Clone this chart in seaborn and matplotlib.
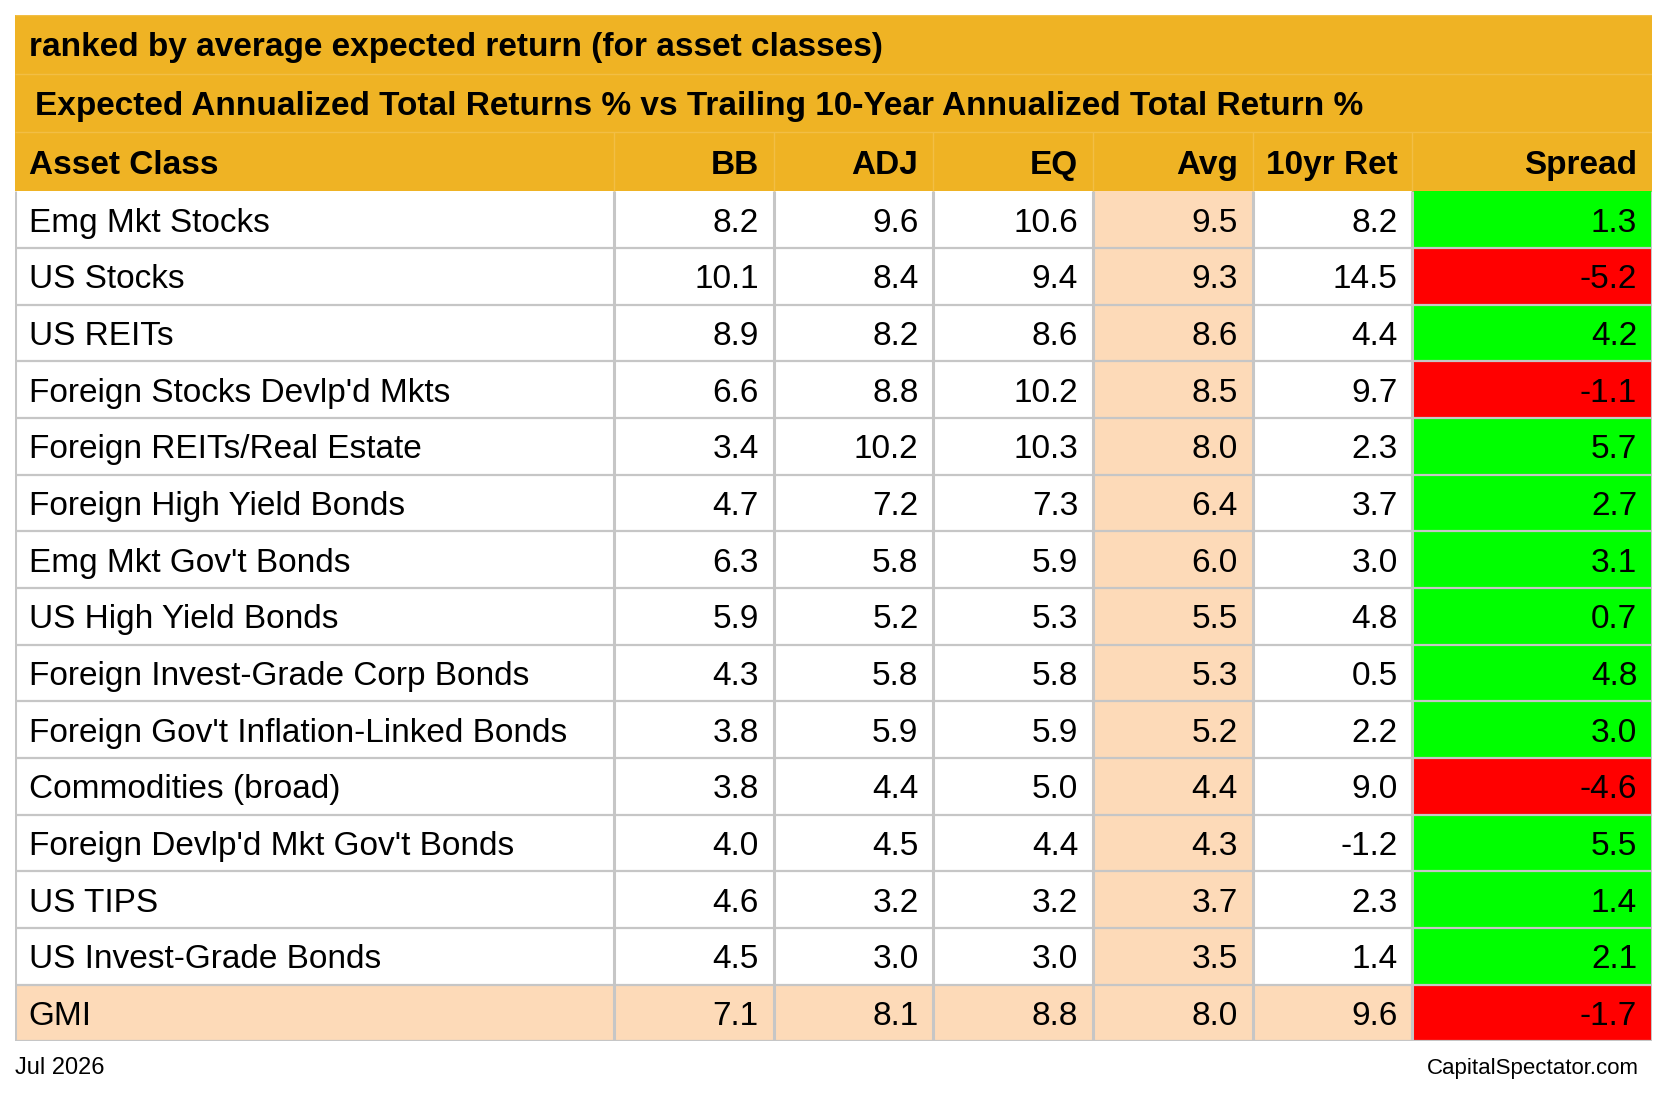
import numpy as np
import matplotlib
matplotlib.use("Agg")
from matplotlib import pyplot as plt
from matplotlib.colors import ListedColormap
import seaborn as sns

assets = ["Emg Mkt Stocks", "US Stocks", "US REITs", "Foreign Stocks Devlp'd Mkts",
          "Foreign REITs/Real Estate", "Foreign High Yield Bonds", "Emg Mkt Gov't Bonds",
          "US High Yield Bonds", "Foreign Invest-Grade Corp Bonds",
          "Foreign Gov't Inflation-Linked Bonds", "Commodities (broad)",
          "Foreign Devlp'd Mkt Gov't Bonds", "US TIPS", "US Invest-Grade Bonds", "GMI"]
bb = [8.2, 10.1, 8.9, 6.6, 3.4, 4.7, 6.3, 5.9, 4.3, 3.8, 3.8, 4.0, 4.6, 4.5, 7.1]
adj = [9.6, 8.4, 8.2, 8.8, 10.2, 7.2, 5.8, 5.2, 5.8, 5.9, 4.4, 4.5, 3.2, 3.0, 8.1]
eq = [10.6, 9.4, 8.6, 10.2, 10.3, 7.3, 5.9, 5.3, 5.8, 5.9, 5.0, 4.4, 3.2, 3.0, 8.8]
avg = [9.5, 9.3, 8.6, 8.5, 8.0, 6.4, 6.0, 5.5, 5.3, 5.2, 4.4, 4.3, 3.7, 3.5, 8.0]
ret10 = [8.2, 14.5, 4.4, 9.7, 2.3, 3.7, 3.0, 4.8, 0.5, 2.2, 9.0, -1.2, 2.3, 1.4, 9.6]
spread = [1.3, -5.2, 4.2, -1.1, 5.7, 2.7, 3.1, 0.7, 4.8, 3.0, -4.6, 5.5, 1.4, 2.1, -1.7]

columns = ["Asset Class", "BB", "ADJ", "EQ", "Avg", "10yr Ret", "Spread"]
title1 = "ranked by average expected return (for asset classes)"
title2 = "Expected Annualized Total Returns % vs Trailing 10-Year Annualized Total Return %"
footer_left = "Jul 2026"
footer_right = "CapitalSpectator.com"

# relative column widths and row heights (grid units)
widths = [15, 4, 4, 4, 4, 4, 6]
n_head = 3
head_h, row_h = 28, 27

palette = ["#FFFFFF", "#FDDAB8", "#00FF00", "#FF0000", "#EFB324"]
WHITE, PEACH, GREEN, RED, GOLD = range(5)

sns.set_style("white")
plt.rcParams["font.family"] = ["Liberation Sans", "DejaVu Sans"]
plt.rcParams["text.color"] = "black"

# cell colour codes
n = len(assets)
codes = np.zeros((n, len(columns)), dtype=int)
for i in range(n):
    gmi = assets[i] == "GMI"
    base = PEACH if gmi else WHITE
    codes[i, :4] = base
    codes[i, 4] = PEACH
    codes[i, 5] = base
    codes[i, 6] = GREEN if spread[i] > 0 else RED
codes = np.vstack([np.full((n_head, len(columns)), GOLD), codes])
heights = [head_h] * n_head + [row_h] * n
grid = np.repeat(np.repeat(codes, widths, axis=1), heights, axis=0)

fig = plt.figure(figsize=(16.68, 11.05), dpi=100)
ax = fig.add_axes([0.0089, 0.0577, 0.9815, 0.9288])
sns.heatmap(grid, cmap=ListedColormap(palette), vmin=-0.5, vmax=4.5, cbar=False,
            xticklabels=False, yticklabels=False, linewidths=0, ax=ax)

xe = np.concatenate([[0], np.cumsum(widths)])
ye = np.concatenate([[0], np.cumsum(heights)])
yc = (ye[:-1] + ye[1:]) / 2
total_w, total_h = xe[-1], ye[-1]

# grid lines
line_col = "#C6C6C6"
ax.hlines(ye[n_head + 1:], 0, total_w, colors=line_col, lw=1.6)
ax.vlines(xe, ye[n_head], total_h, colors=line_col, lw=2.2)
# faint header lines
ax.hlines(ye[:n_head], 0, total_w, colors="#F2BE45", lw=1.0)
ax.vlines(xe[1:-1], ye[2], ye[3], colors="#F2BE45", lw=1.0)

fs = 24
pad_l = 0.35
pad_r = 0.37

ax.text(pad_l, yc[0], title1, fontsize=fs, fontweight="bold", ha="left", va="center_baseline")
ax.text(0.5, yc[1], title2, fontsize=fs, fontweight="bold", ha="left", va="center_baseline")
for j, col in enumerate(columns):
    if j == 0:
        ax.text(xe[0] + pad_l, yc[2], col, fontsize=fs, fontweight="bold",
                ha="left", va="center_baseline")
    else:
        ax.text(xe[j + 1] - pad_r, yc[2], col, fontsize=fs, fontweight="bold",
                ha="right", va="center_baseline")

values = [bb, adj, eq, avg, ret10, spread]
for i in range(n):
    y = yc[n_head + i]
    ax.text(xe[0] + pad_l, y, assets[i], fontsize=fs, ha="left", va="center_baseline")
    for j, vals in enumerate(values):
        ax.text(xe[j + 2] - pad_r, y, f"{vals[i]:.1f}", fontsize=fs,
                ha="right", va="center_baseline")

ax.set_xlim(0, total_w)
ax.set_ylim(total_h, 0)
ax.axis("off")

fig.text(0.0089, 0.0356, footer_left, fontsize=17, ha="left", va="center_baseline")
fig.text(0.9828, 0.0356, footer_right, fontsize=16, ha="right", va="center_baseline")

fig.savefig("out.png", dpi=100)
